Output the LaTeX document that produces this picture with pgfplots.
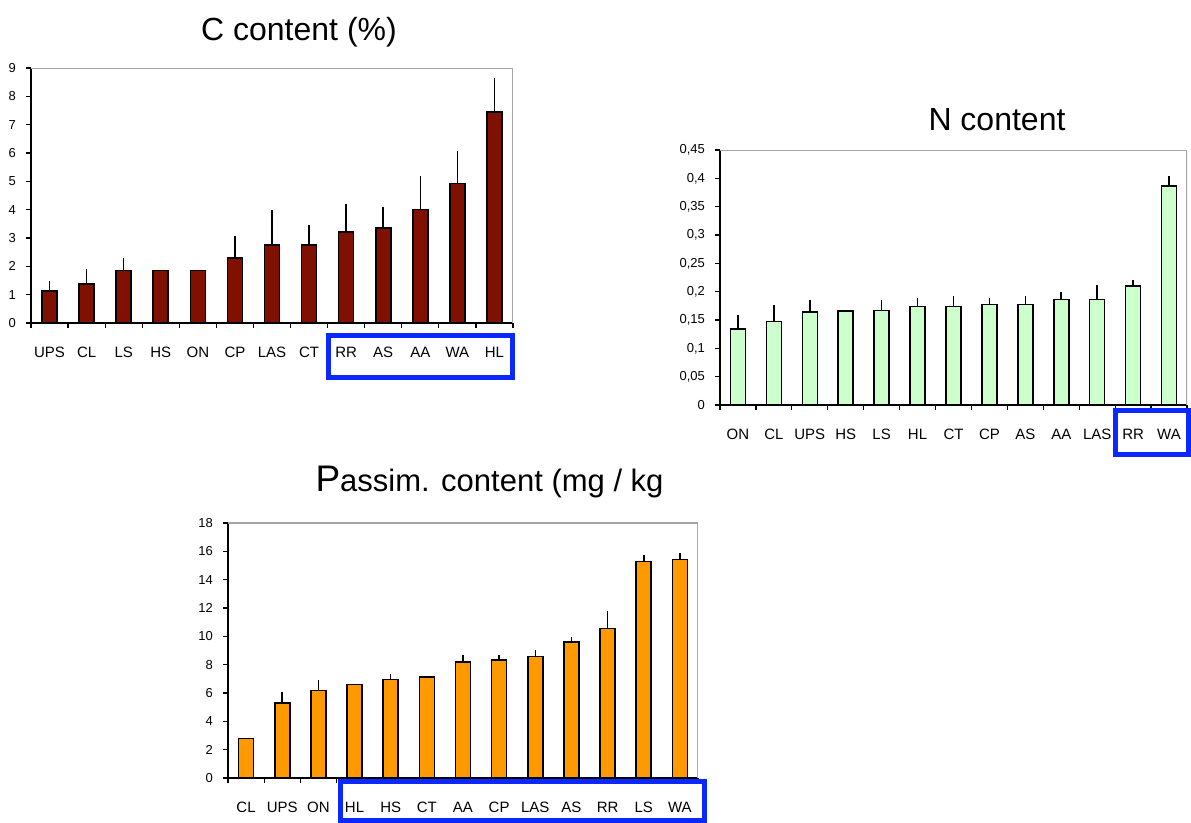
\documentclass[border=0pt]{standalone}
\usepackage{fontspec}
\setmainfont{Liberation Sans}
\usepackage{pgfplots}
\pgfplotsset{compat=1.18}
\definecolor{cbar}{RGB}{128,17,0}
\definecolor{nbar}{RGB}{204,255,204}
\definecolor{pbar}{RGB}{255,153,0}
\definecolor{boxblue}{RGB}{10,40,255}
\pgfplotsset{
  chart/.style={
    scale only axis, anchor=south west,
    width=235pt, height=127.5pt,
    axis lines*=left,
    axis line style={black, line width=0.8pt},
    xmin=-0.5, xmax=12.5, ymin=0,
    xtick={0,...,12},
    major x tick style={draw=none},
    minor xtick={-0.5,0.5,...,12.5},
    minor tick length=2.5pt,
    major tick length=2.5pt,
    tick align=outside,
    tick style={black, line width=0.6pt},
    xticklabel style={font=\fontsize{7.5}{8}\selectfont, yshift=-6pt},
    yticklabel style={font=\fontsize{6.5}{7}\selectfont, xshift=-1.5pt},
    scaled y ticks=false,
    /pgf/number format/assume math mode=true,
    ybar, bar width=7.5pt, bar shift=0pt,
    every axis plot/.append style={draw=black, line width=0.8pt},
  },
  errs/.style={draw=none, fill=none, forget plot,
    error bars/y dir=plus, error bars/y explicit,
    error bars/error mark options={mark size=1.4pt, line width=0.8pt, black},
    error bars/error bar style={line width=0.8pt, black}},
}
\begin{document}
\begin{tikzpicture}[x=1pt,y=1pt]
\useasboundingbox (0,0) rectangle (595.5,-411.5);

% C content
\node[font=\fontsize{16}{18}\selectfont] at (149.5,-16) {C content (\%)};
\begin{axis}[chart, at={(15.5pt,-161.5pt)}, width=241pt,
  ymax=9, ytick={0,1,...,9},
  xticklabels={UPS,CL,LS,HS,ON,CP,LAS,CT,RR,AS,AA,WA,HL}]
\addplot[fill=cbar] coordinates {
 (0,1.12) (1,1.38) (2,1.85) (3,1.85) (4,1.85) (5,2.29) (6,2.76)
 (7,2.76) (8,3.22) (9,3.35) (10,4.00) (11,4.92) (12,7.44)
};
\addplot[errs] coordinates {
 (0,1.12) +- (0,0.27)
 (1,1.38) +- (0,0.41)
 (2,1.85) +- (0,0.33)
 (5,2.29) +- (0,0.67)
 (6,2.76) +- (0,1.12)
 (7,2.76) +- (0,0.59)
 (8,3.22) +- (0,0.87)
 (9,3.35) +- (0,0.66)
 (10,4.00) +- (0,1.08)
 (11,4.92) +- (0,1.06)
 (12,7.44) +- (0,1.11)
};
\draw[gray!70, line width=0.6pt] (rel axis cs:0,1) -- (rel axis cs:1,1) -- (rel axis cs:1,0);
\end{axis}

% N content
\node[font=\fontsize{16}{18}\selectfont] at (498.5,-60) {N content};
\begin{axis}[chart, at={(360pt,-202.5pt)}, width=233.5pt,
  ymax=0.45, ytick={0,0.05,0.1,0.15,0.2,0.25,0.3,0.35,0.4,0.45},
  yticklabels={0,{0,05},{0,1},{0,15},{0,2},{0,25},{0,3},{0,35},{0,4},{0,45}},
  xticklabels={ON,CL,UPS,HS,LS,HL,CT,CP,AS,AA,LAS,RR,WA}]
\addplot[fill=nbar] coordinates {
 (0,0.134) (1,0.147) (2,0.164) (3,0.166) (4,0.167) (5,0.174) (6,0.174)
 (7,0.177) (8,0.177) (9,0.186) (10,0.186) (11,0.210) (12,0.386)
};
\addplot[errs] coordinates {
 (0,0.134) +- (0,0.020)
 (1,0.147) +- (0,0.024)
 (2,0.164) +- (0,0.016)
 (4,0.167) +- (0,0.013)
 (5,0.174) +- (0,0.010)
 (6,0.174) +- (0,0.013)
 (7,0.177) +- (0,0.007)
 (8,0.177) +- (0,0.010)
 (9,0.186) +- (0,0.008)
 (10,0.186) +- (0,0.020)
 (11,0.210) +- (0,0.006)
 (12,0.386) +- (0,0.014)
};
\draw[gray!70, line width=0.6pt] (rel axis cs:0,1) -- (rel axis cs:1,1) -- (rel axis cs:1,0);
\end{axis}

% P content
\node[font=\fontsize{15.5}{18}\selectfont] at (244.75,-241) {{\fontsize{18.5}{20}\selectfont P}assim. content (mg / kg};
\begin{axis}[chart, at={(114pt,-389pt)}, width=235pt,
  ymax=18, ytick={0,2,...,18},
  xticklabels={CL,UPS,ON,HL,HS,CT,AA,CP,LAS,AS,RR,LS,WA}]
\addplot[fill=pbar] coordinates {
 (0,2.80) (1,5.29) (2,6.19) (3,6.61) (4,6.94) (5,7.13) (6,8.19)
 (7,8.31) (8,8.59) (9,9.60) (10,10.56) (11,15.29) (12,15.41)
};
\addplot[errs] coordinates {
 (1,5.29) +- (0,0.55)
 (2,6.19) +- (0,0.56)
 (4,6.94) +- (0,0.19)
 (6,8.19) +- (0,0.28)
 (7,8.31) +- (0,0.14)
 (8,8.59) +- (0,0.28)
 (9,9.60) +- (0,0.16)
 (10,10.56) +- (0,1.04)
 (11,15.29) +- (0,0.24)
 (12,15.41) +- (0,0.28)
};
\draw[gray!70, line width=0.6pt] (rel axis cs:0,1) -- (rel axis cs:1,1) -- (rel axis cs:1,0);
\end{axis}

% highlight boxes
\draw[boxblue, line width=2.5pt] (164.25,-167.75) rectangle (256.25,-188.75);
\draw[boxblue, line width=2.5pt] (557.75,-205.25) rectangle (594.25,-227.25);
\draw[boxblue, line width=2.5pt] (170.25,-390.75) rectangle (352.25,-410.25);
\end{tikzpicture}
\end{document}
